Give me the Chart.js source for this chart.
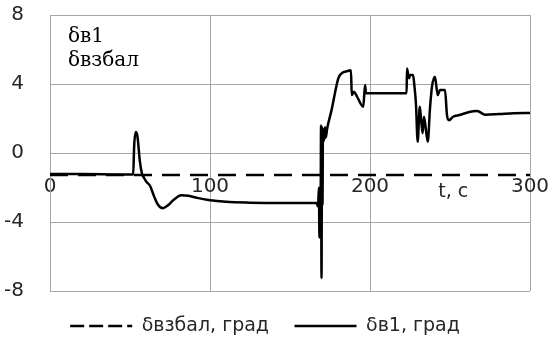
<!DOCTYPE html>
<html>
<head>
<meta charset="utf-8">
<script src="https://cdn.jsdelivr.net/npm/chart.js@4/dist/chart.umd.min.js"></script>
<style>
  html, body { margin: 0; padding: 0; background: #fff; }
  #wrap { width: 550px; height: 354px; }
</style>
</head>
<body>
<div id="wrap"><canvas id="c" width="550" height="354"></canvas></div>
<script>
// Time axis (seconds) and angle axis (degrees)
const timeTicks = [0, 100, 200, 300];
const angleTicks = [-8, -4, 0, 4, 8];

// δв1 — measured deflection, degrees
const tB1 = [0, 20, 40, 52, 52.6, 53.6, 54.6, 56.2, 57.5, 58.8, 60.5, 62.5, 65, 67.5, 70.5, 73.5,
  77.5, 82, 86.5, 92, 99, 110, 125, 145, 166.5, 167.5, 168.1, 168.4, 168.7, 169.1, 169.4, 169.7,
  170.0, 170.3, 170.6, 171.2, 171.9, 172.4, 173.2, 176, 180.2, 182.3, 186, 188.1, 188.6, 190,
  191.9, 195.8, 196.9, 197.5, 222.9, 223.1, 224.4, 225, 226.9, 227.8, 228.75, 229.8, 231.1,
  231.9, 232.9, 233.75, 236.1, 237.5, 238.75, 240.6, 242.3, 243.75, 246.9, 248.1, 249.4, 251.9,
  256, 262, 267, 272, 281, 290, 300];
const dB1 = [-1.22, -1.22, -1.24, -1.25, 0.4, 1.22, 1.0, -0.5, -1.2, -1.45, -1.7, -1.9, -2.5, -3.0, -3.2, -3.05,
  -2.7, -2.45, -2.48, -2.6, -2.72, -2.83, -2.88, -2.9, -2.9, -3.1, -2.0, -4.9, -2.2, -4.5, 1.6, -7.25,
  1.5, -3.0, 1.4, 0.7, 1.5, 0.9, 1.4, 2.5, 4.33, 4.62, 4.75, 4.8, 3.36, 3.55,
  3.27, 2.68, 3.94, 3.47, 3.47, 4.9, 4.33, 4.52, 4.52, 3.85, 2.8, 0.65, 2.68,
  2.0, 1.14, 2.1, 0.65, 2.6, 3.85, 4.42, 3.36, 3.65, 3.65, 2.2, 1.9, 2.1,
  2.2, 2.38, 2.43, 2.22, 2.26, 2.3, 2.32];

// δвзбал — balancing deflection, degrees
const tBal = [0, 300];
const dBal = [-1.28, -1.28];

const seriesNames = ['δвзбал, град', 'δв1, град'];
const boxLines = ['δв1', 'δвзбал'];
const timeLabel = 't, с';

const toPoints = (xs, ys) => xs.map((x, i) => ({ x: x, y: ys[i] }));

const GRID = '#a6a6a6';
const TXT = '#262626';

// Free text: the two-line note inside the plot and the time-axis caption
const notes = {
  id: 'notes',
  afterDraw(chart) {
    const ctx = chart.ctx;
    const xs = chart.scales.x, ys = chart.scales.y;
    ctx.save();
    ctx.fillStyle = '#000';
    ctx.textAlign = 'left';
    ctx.textBaseline = 'alphabetic';
    ctx.font = '20px "DejaVu Serif"';
    ctx.fillText(boxLines[0], chart.chartArea.left + 18, chart.chartArea.top + 27);
    ctx.fillText(boxLines[1], chart.chartArea.left + 18, chart.chartArea.top + 51);
    ctx.fillStyle = TXT;
    ctx.font = '19px "DejaVu Sans"';
    ctx.textAlign = 'center';
    ctx.fillText(timeLabel, xs.getPixelForValue(252), ys.getPixelForValue(dBal[0]) + 22);
    ctx.restore();
  }
};

new Chart(document.getElementById('c'), {
  type: 'line',
  data: {
    datasets: [
      {
        label: seriesNames[0],
        data: toPoints(tBal, dBal),
        borderColor: '#000',
        borderWidth: 2.5,
        borderDash: [18, 10],
        pointRadius: 0,
        fill: false
      },
      {
        label: seriesNames[1],
        data: toPoints(tB1, dB1),
        borderColor: '#000',
        borderWidth: 2.5,
        pointRadius: 0,
        cubicInterpolationMode: 'monotone',
        fill: false
      }
    ]
  },
  options: {
    responsive: false,
    animation: false,
    devicePixelRatio: 1,
    layout: { padding: { left: 0, right: 20, top: 15, bottom: 8.5 } },
    scales: {
      x: {
        type: 'linear',
        position: { y: dBal[0] },
        min: timeTicks[0],
        max: timeTicks[timeTicks.length - 1],
        afterBuildTicks(scale) { scale.ticks = timeTicks.map(v => ({ value: v })); },
        grid: { color: GRID, lineWidth: 1, drawTicks: false },
        border: { display: false },
        ticks: { padding: 0, color: TXT, font: { family: 'DejaVu Sans', size: 20 }, maxRotation: 0 }
      },
      y: {
        min: angleTicks[0],
        max: angleTicks[angleTicks.length - 1],
        afterBuildTicks(scale) { scale.ticks = angleTicks.map(v => ({ value: v })); },
        afterFit(scale) {
          scale.width = 50;
          scale.paddingTop = 10;
          scale.paddingBottom = 10;
        },
        grid: { color: GRID, lineWidth: 1, drawTicks: false },
        border: { display: true, color: GRID, width: 1 },
        ticks: { padding: 26, color: TXT, font: { family: 'DejaVu Sans', size: 20 } }
      }
    },
    plugins: {
      tooltip: { enabled: false },
      legend: {
        position: 'bottom',
        labels: {
          usePointStyle: true,
          pointStyleWidth: 62,
          padding: 25.5,
          color: TXT,
          font: { family: 'DejaVu Sans', size: 19 },
          generateLabels(chart) {
            const items = Chart.defaults.plugins.legend.labels.generateLabels(chart);
            items.forEach(it => {
              it.pointStyle = 'line';
              it.lineWidth = 2.5;
              it.strokeStyle = '#000';
              it.lineDash = it.datasetIndex === 0 ? [14, 5] : [];
            });
            return items;
          }
        }
      }
    }
  },
  plugins: [notes]
});
</script>
</body>
</html>
